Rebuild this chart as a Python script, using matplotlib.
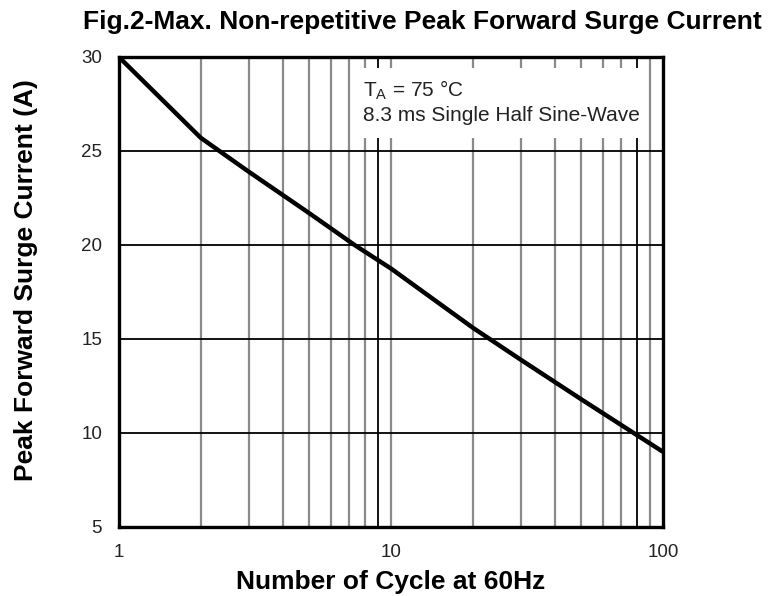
import numpy as np
import matplotlib
matplotlib.use("Agg")
from matplotlib import pyplot as plt
from matplotlib.patches import Rectangle

plt.rcParams['font.family'] = ['Liberation Sans', 'DejaVu Sans']

# curve
cycles = [1, 2, 3, 5, 7.35, 10, 20, 30, 50, 80, 100]
surge_a = [30, 25.7, 23.9, 21.7, 20.0, 18.75, 15.6, 13.9, 11.8, 9.9, 9.0]

grey_x = [2, 3, 4, 5, 6, 7, 8, 10, 20, 30, 40, 50, 60, 70, 90]
dark_x = [9, 80]
hlines_y = [10, 15, 20, 25]

xticks = [1, 10, 100]
yticks = [5, 10, 15, 20, 25, 30]

fig = plt.figure(figsize=(7.82, 5.96), dpi=100)
ax = fig.add_axes([0.152, 0.1158, 0.6957, 0.7886])

ax.set_xscale("log")
ax.set_xlim(1, 100)
ax.set_ylim(5, 30)

for x in grey_x:
    ax.axvline(x, color="#8a8a8a", lw=1.6, zorder=1)
for x in dark_x:
    ax.axvline(x, color="black", lw=1.3, zorder=1)
for y in hlines_y:
    ax.axhline(y, color="black", lw=1.3, zorder=1)

# white box behind the note
ax.add_patch(Rectangle((0.447, 0.828), 0.511, 0.149, transform=ax.transAxes,
                       facecolor="white", edgecolor="none", zorder=2))
ax.text(0.449, 0.955, "T$_\\mathregular{A}$ = 75 °C\n8.3 ms Single Half Sine-Wave",
        transform=ax.transAxes, ha="left", va="top", fontsize=15,
        color="#222222", linespacing=1.3, zorder=3)

ax.plot(cycles, surge_a, color="black", lw=3.2, zorder=4, solid_capstyle="butt")

ax.set_xticks(xticks)
ax.set_xticklabels([str(v) for v in xticks])
ax.xaxis.set_minor_locator(matplotlib.ticker.NullLocator())
ax.set_yticks(yticks)
ax.tick_params(length=0, labelsize=13.5, labelcolor="#222222")
ax.tick_params(axis="x", pad=12)
ax.tick_params(axis="y", pad=12)

for s in ax.spines.values():
    s.set_linewidth(2.4)
    s.set_zorder(5)

fig.text(0.499, 0.0235, "Number of Cycle at 60Hz", fontsize=19,
         fontweight="bold", ha="center", va="center")
fig.text(0.033, 0.530, "Peak Forward Surge Current (A)", fontsize=19,
         fontweight="bold", ha="center", va="center", rotation=90)
fig.text(0.106, 0.963, "Fig.2-Max. Non-repetitive Peak Forward Surge Current",
         fontsize=19, fontweight="bold", ha="left", va="center")

fig.savefig("out.png", dpi=100)
